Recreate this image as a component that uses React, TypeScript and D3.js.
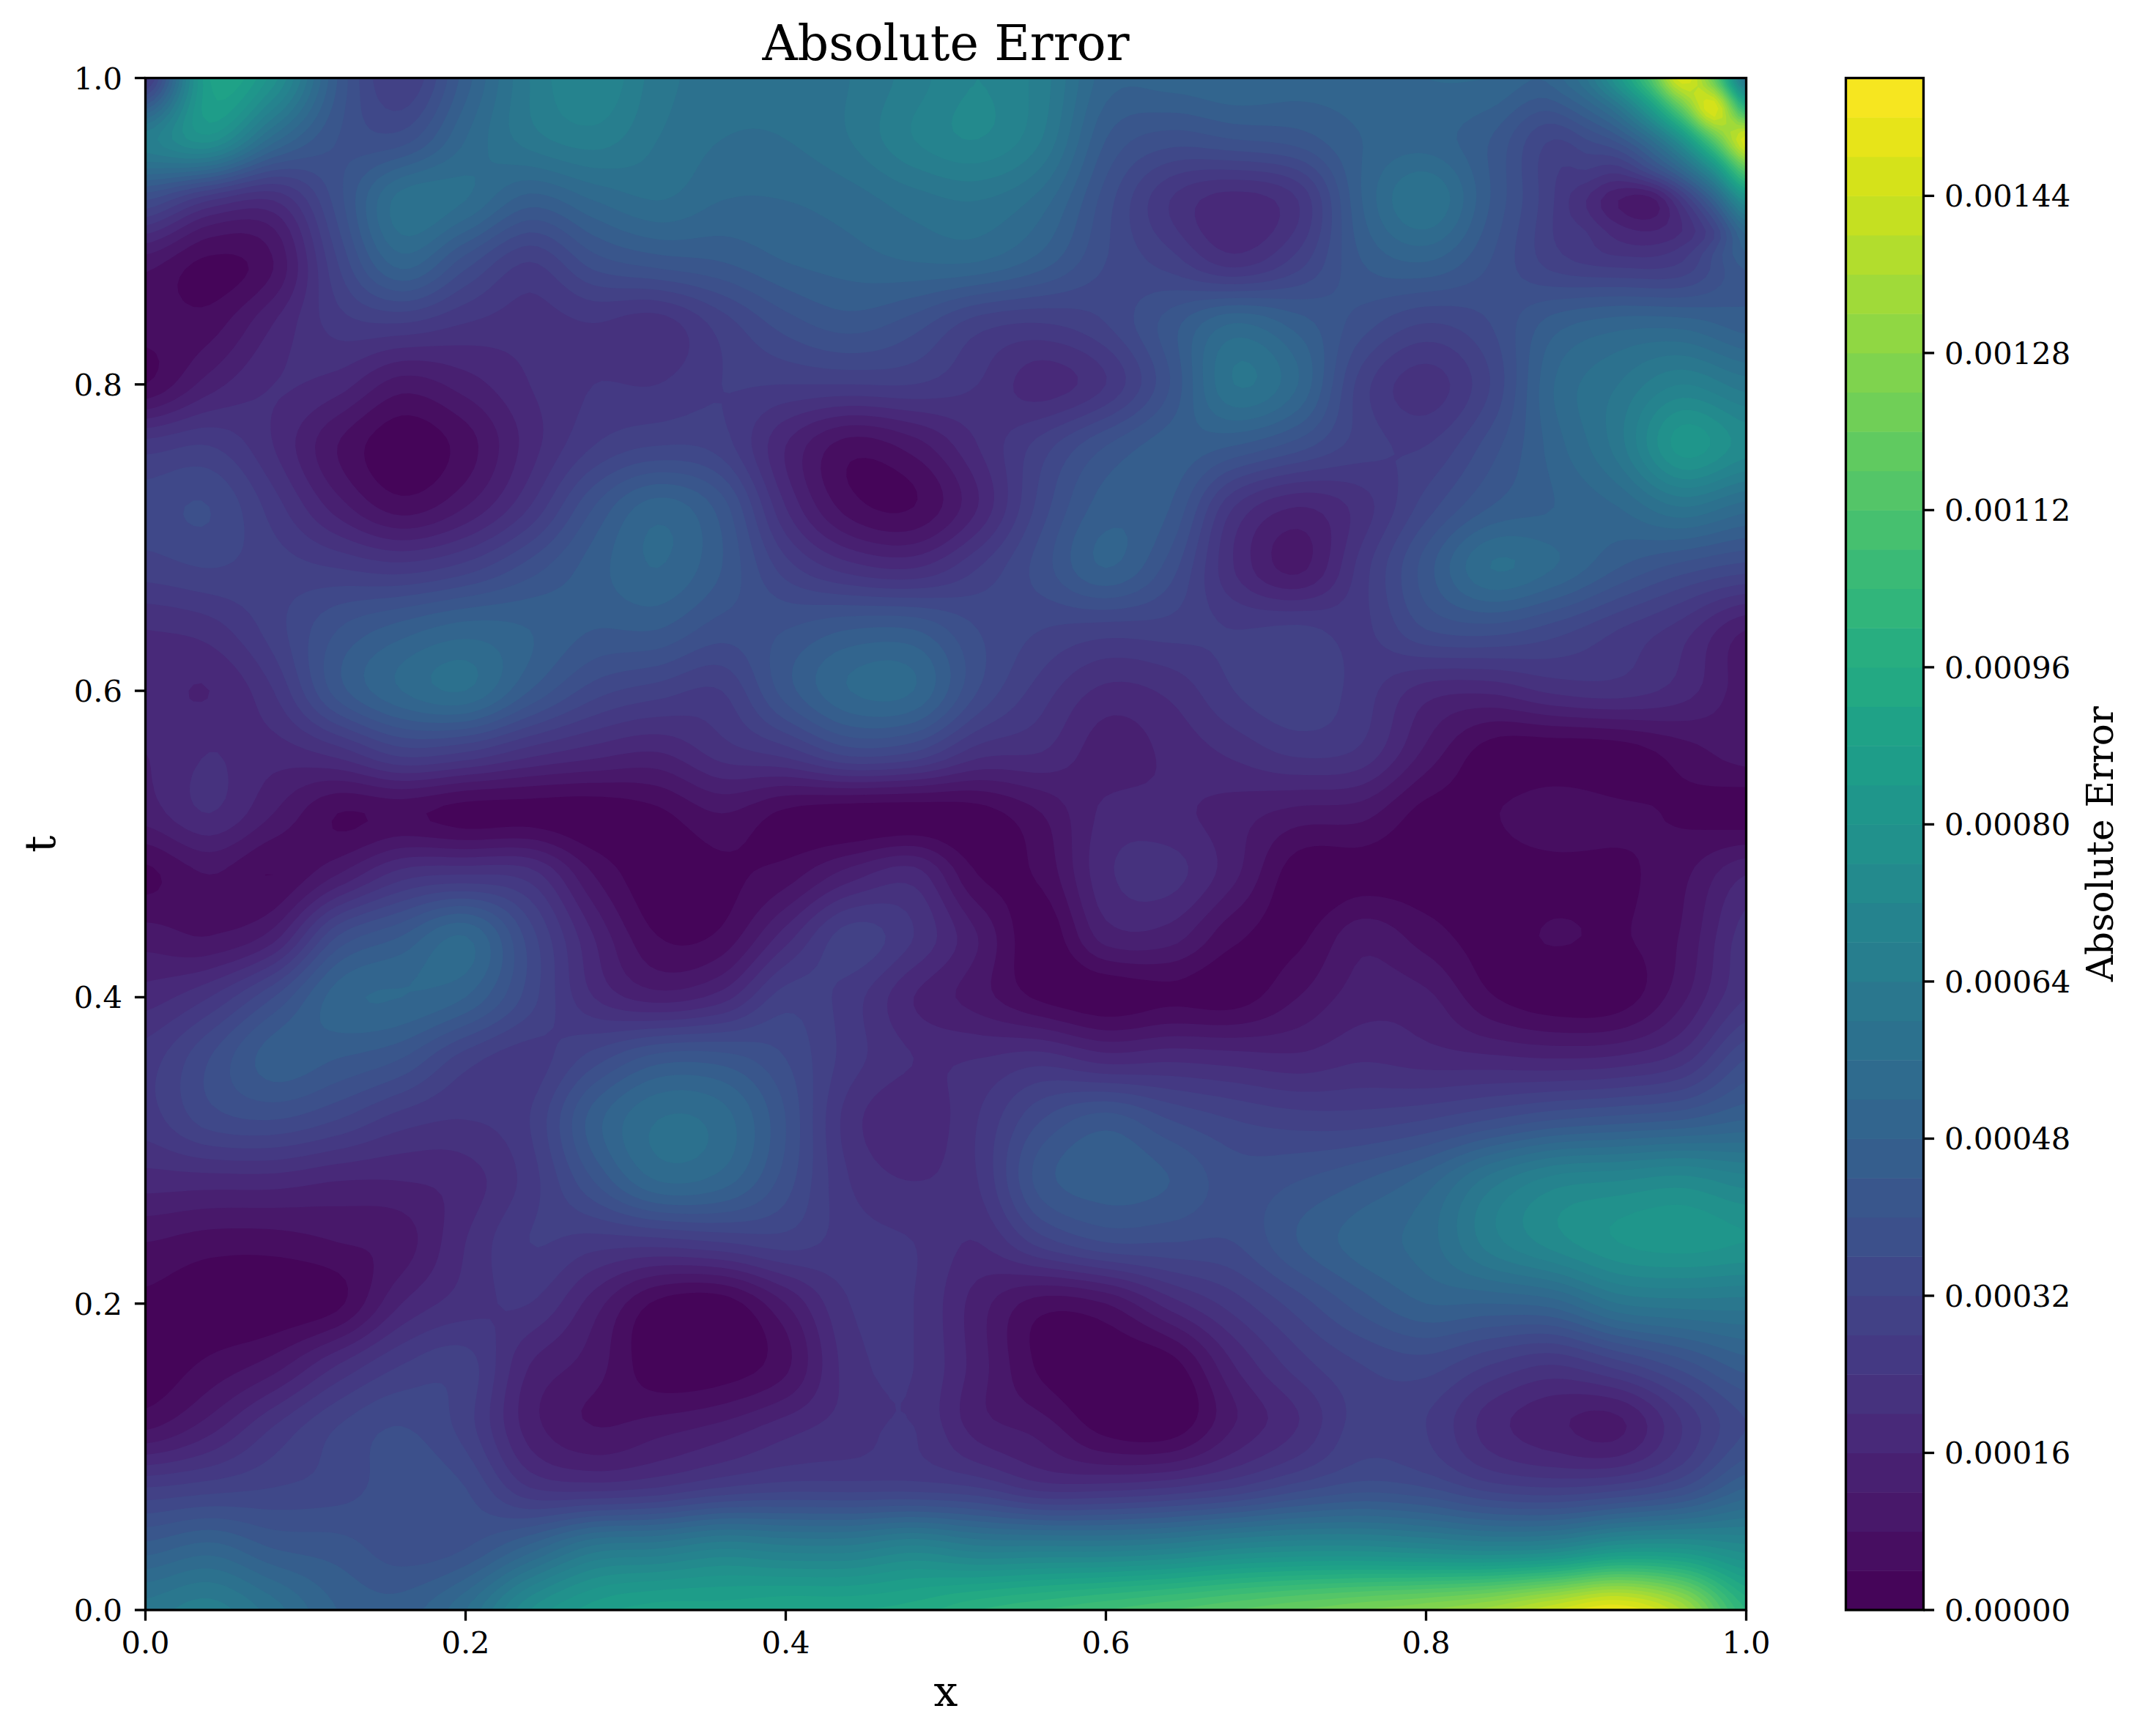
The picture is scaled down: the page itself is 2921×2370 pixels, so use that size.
import React, { useMemo } from "react";
import * as d3 from "d3";

// Absolute error, in units of 1e-5. Rows run from t=1.0 down to t=0.0 in steps of 0.04; columns x=0..1 in steps of 0.04.
const errorRows: number[][] = [
  [25,88,78,44,28,46,64,72,62,58,58,60,66,72,66,50,50,52,50,50,52,52,50,82,148,58],
  [66,78,54,40,38,52,62,66,60,56,56,60,68,72,64,44,38,40,42,48,50,44,32,42,80,148],
  [36,24,20,38,58,56,46,52,56,52,52,54,58,60,54,38,24,18,24,48,60,44,28,10,26,78],
  [10,3,8,32,50,38,28,38,42,44,48,50,52,52,46,36,30,22,30,44,48,40,30,26,28,46],
  [6,6,16,26,28,24,22,24,22,30,38,42,38,30,28,32,42,52,46,38,32,36,46,50,50,46],
  [4,14,20,18,10,14,20,24,24,28,28,28,28,24,18,24,40,60,52,30,22,32,52,60,68,62],
  [26,28,20,8,1,6,18,28,32,30,16,6,10,20,30,40,46,44,38,30,28,38,50,62,82,74],
  [34,36,26,14,6,12,24,40,50,42,20,6,4,16,34,46,44,24,16,22,34,44,48,52,60,54],
  [30,32,30,28,26,30,38,46,52,44,30,22,20,28,38,48,38,20,11,26,42,56,52,44,38,34],
  [20,22,30,40,46,50,48,44,44,38,40,44,44,36,32,30,30,28,29,27,36,38,34,28,22,12],
  [18,16,24,42,52,56,44,34,30,28,42,52,52,36,26,19,21,28,31,26,18,17,21,22,18,10],
  [16,20,18,22,30,28,22,18,16,22,26,34,32,22,20,14,17,21,25,23,11,2,1,1.5,6,10],
  [14,20,12,4,5,2,2,1,3,8,3,1,1,2,8,17,17,14,10.5,9.5,2.5,3.5,7.5,5,3.5,1.5],
  [3,8,4,12,22,24,22,8,1,3,6,14,18,4,5,19,21.5,13,1.5,2,1.5,1.5,2,3,7,16],
  [10,8,14,36,44,52,34,16,4,5,18,30,24,12,1,14,14,5,3,10.5,6,2,4.5,3.5,8.5,22],
  [18,24,36,50,52,48,34,20,14,18,30,26,16,10,3,1,3,2,8,14,13,4.5,1,1.5,11,24],
  [26,36,46,44,40,30,26,34,42,42,36,26,20,20,22,18,19,18,17,19.5,18,17,16,17,22,36],
  [26,34,36,32,26,24,28,46,56,54,40,22,17,24,36,42,36,32,30,30,32,36,40,42,44,48],
  [18,18,18,16,16,18,26,40,52,50,38,24,20,24,42,46,44,38,40,44,50,62,70,72,74,70],
  [8,6,6,8,10,20,28,26,26,28,30,26,24,20,30,36,36,36,44,50,54,66,74,80,82,80],
  [3,1,0.5,3,16,22,24,14,3,1.5,12,24,24,14,6,8,18,26,34,42,48,48,50,60,62,62],
  [1,5,10,20,28,30,16,10,1,1,7,22,24,14,3,1,2,16,26,32,34,28,24,30,38,46],
  [7,14,24,32,36,30,14,8,10,13,18,22,24,14,10,2,1,12,20,30,28,18,13,11,24,36],
  [28,30,32,34,38,36,24,22,24,28,30,30,30,28,22,22,24,28,34,38,36,30,28,30,36,48],
  [46,50,44,42,38,40,50,62,64,68,66,66,70,66,66,66,68,72,74,74,72,70,72,80,80,74],
  [62,66,58,48,46,56,76,86,90,90,92,92,94,100,104,108,112,116,120,124,128,134,144,152,136,100],
];

// Finer reading of the top-right corner: x=0.88..1.00 and t=1.00..0.88 in steps of 0.02.
const cornerRows: number[][] = [
  [50,60,82,112,148,118,58],
  [42,48,60,84,118,148,100],
  [32,36,42,56,80,116,148],
  [30,28,26,36,52,78,116],
  [28,20,12,10,26,48,78],
  [30,24,18,16,20,32,54],
  [30,30,26,24,28,32,46],
];

const xTicks = [0, 0.2, 0.4, 0.6, 0.8, 1.0];
const tTicks = [0, 0.2, 0.4, 0.6, 0.8, 1.0];
const cbarTicks = [0, 16, 32, 48, 64, 80, 96, 112, 128, 144];
const levelStep = 4;
const levelCount = 39;
const levels = d3.range(levelCount).map((i) => i * levelStep);

const W = 2921, H = 2370;
const L = 198.5, R = 2383.5, T = 106.5, B = 2198;
const CL = 2519.5, CR = 2625.5;
const FONT = "'DejaVu Serif', serif";
const INK = 3.33;
const TICK = 14.6;

const x = d3.scaleLinear().domain([0, 1]).range([L, R]);
const y = d3.scaleLinear().domain([0, 1]).range([B, T]);
const cy = d3.scaleLinear().domain([0, levelCount * levelStep]).range([B, T]);
const bandColor = (i: number) => d3.interpolateViridis((i + 0.5) / levelCount);

function catmull(p0: number, p1: number, p2: number, p3: number, u: number) {
  return 0.5 * (2 * p1 + (p2 - p0) * u + (2 * p0 - 5 * p1 + 4 * p2 - p3) * u * u + (3 * p1 - p0 - 3 * p2 + p3) * u * u * u);
}

// Sample a table at fractional column / row.
function sample(rows: number[][], cf: number, rf: number) {
  const m = rows.length, n = rows[0].length;
  const at = (r: number, c: number) => rows[Math.max(0, Math.min(m - 1, r))][Math.max(0, Math.min(n - 1, c))];
  const r = Math.max(0, Math.min(Math.floor(rf), m - 2)), v = rf - r;
  const c = Math.max(0, Math.min(Math.floor(cf), n - 2)), u = cf - c;
  const col = [-1, 0, 1, 2].map((d) => catmull(at(r + d, c - 1), at(r + d, c), at(r + d, c + 1), at(r + d, c + 2), u));
  return catmull(col[0], col[1], col[2], col[3], v);
}

const smooth = (a: number) => {
  const k = Math.max(0, Math.min(1, a));
  return k * k * (3 - 2 * k);
};

function upsample(f: number) {
  const m = errorRows.length, n = errorRows[0].length;
  const w = (n - 1) * f + 1, h = (m - 1) * f + 1;
  const out = new Float64Array(w * h);
  for (let j = 0; j < h; j++) {
    const t = 1 - j / (h - 1);
    for (let i = 0; i < w; i++) {
      const xv = i / (w - 1);
      let val = sample(errorRows, i / f, j / f);
      if (xv > 0.88 && t > 0.88) {
        const fine = sample(cornerRows, (xv - 0.88) / 0.02, (1 - t) / 0.02);
        const k = smooth((xv - 0.88) / 0.02) * smooth((t - 0.88) / 0.02);
        val = val * (1 - k) + fine * k;
      }
      out[j * w + i] = Math.max(0, Math.min(levelCount * levelStep - 0.01, val));
    }
  }
  return { values: out, w, h };
}

export default function App() {
  const bands = useMemo(() => {
    const { values, w, h } = upsample(8);
    const gen = d3.contours().size([w, h]).thresholds(levels);
    const polys = gen(Array.from(values));
    const sx = d3.scaleLinear().domain([0.5, w - 0.5]).range([L, R]);
    const sy = d3.scaleLinear().domain([0.5, h - 0.5]).range([T, B]);
    const path = d3.geoPath(d3.geoTransform({
      point(px: number, py: number) {
        (this as any).stream.point(sx(px), sy(py));
      },
    }));
    return polys.map((p, i) => ({ d: path(p as any) || "", i }));
  }, []);

  return (
    <svg width={W} height={H} viewBox={`0 0 ${W} ${H}`} style={{ position: "absolute", left: 0, top: 0, background: "#fff" }} fontFamily={FONT} fill="#000">
      <defs>
        <clipPath id="plot"><rect x={L} y={T} width={R - L} height={B - T} /></clipPath>
      </defs>
      <g clipPath="url(#plot)">
        {bands.map((b) => (
          <path key={b.i} d={b.d} fill={bandColor(b.i)} />
        ))}
      </g>
      <rect x={L} y={T} width={R - L} height={B - T} fill="none" stroke="#000" strokeWidth={INK} />

      {xTicks.map((v) => (
        <g key={`x${v}`}>
          <line x1={x(v)} x2={x(v)} y1={B} y2={B + TICK} stroke="#000" strokeWidth={INK} />
          <text x={x(v)} y={2257} fontSize={41.67} textAnchor="middle">{v.toFixed(1)}</text>
        </g>
      ))}
      {tTicks.map((v) => (
        <g key={`t${v}`}>
          <line x1={L - TICK} x2={L} y1={y(v)} y2={y(v)} stroke="#000" strokeWidth={INK} />
          <text x={167} y={y(v) + 15} fontSize={41.67} textAnchor="end">{v.toFixed(1)}</text>
        </g>
      ))}

      <text x={(L + R) / 2} y={82} fontSize={66.67} textAnchor="middle">Absolute Error</text>
      <text x={(L + R) / 2} y={2329} fontSize={58.33} textAnchor="middle">x</text>
      <text transform={`translate(75,${(T + B) / 2}) rotate(-90)`} fontSize={58.33} textAnchor="middle">t</text>

      {levels.map((l, i) => (
        <rect key={l} x={CL} width={CR - CL} y={cy(l + levelStep)} height={cy(l) - cy(l + levelStep) + 0.5} fill={bandColor(i)} />
      ))}
      <rect x={CL} y={T} width={CR - CL} height={B - T} fill="none" stroke="#000" strokeWidth={INK} />
      {cbarTicks.map((v) => (
        <g key={`c${v}`}>
          <line x1={CR} x2={CR + TICK} y1={cy(v)} y2={cy(v)} stroke="#000" strokeWidth={INK} />
          <text x={2654} y={cy(v) + 15} fontSize={41.67}>{`0.${String(v).padStart(5, "0")}`}</text>
        </g>
      ))}
      <text transform={`translate(2884,${(T + B) / 2}) rotate(-90)`} fontSize={50} textAnchor="middle">Absolute Error</text>
    </svg>
  );
}
